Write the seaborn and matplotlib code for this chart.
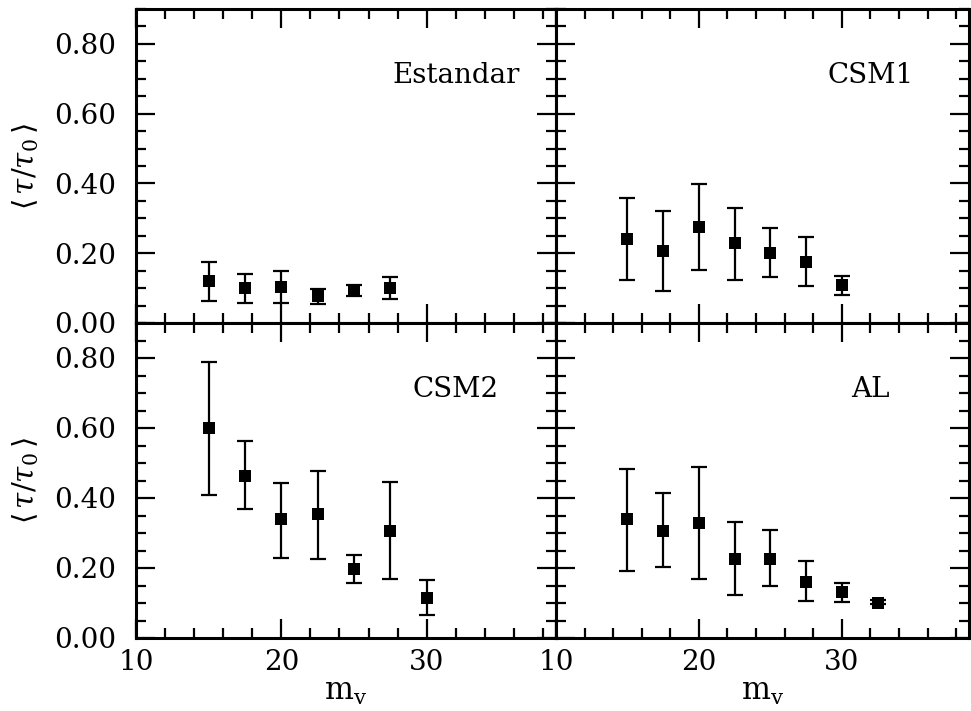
import numpy as np
import pandas as pd
import matplotlib
matplotlib.use("Agg")
import matplotlib.pyplot as plt
from matplotlib.ticker import MultipleLocator, FormatStrFormatter
import seaborn as sns

# ---- data ----
panels = ["Estandar", "CSM1", "CSM2", "AL"]

x_est = [15.0, 17.5, 20.0, 22.5, 25.0, 27.5]
y_est = [0.120, 0.099, 0.102, 0.076, 0.093, 0.099]
hi_est = [0.176, 0.140, 0.150, 0.097, 0.110, 0.133]
lo_est = [0.063, 0.057, 0.057, 0.055, 0.077, 0.069]

x_csm1 = [15.0, 17.5, 20.0, 22.5, 25.0, 27.5, 30.0]
y_csm1 = [0.242, 0.205, 0.274, 0.228, 0.202, 0.176, 0.109]
hi_csm1 = [0.359, 0.322, 0.397, 0.331, 0.271, 0.247, 0.136]
lo_csm1 = [0.124, 0.091, 0.151, 0.124, 0.131, 0.105, 0.079]

x_csm2 = [15.0, 17.5, 20.0, 22.5, 25.0, 27.5, 30.0]
y_csm2 = [0.600, 0.464, 0.339, 0.353, 0.198, 0.307, 0.115]
hi_csm2 = [0.790, 0.562, 0.444, 0.476, 0.238, 0.445, 0.165]
lo_csm2 = [0.409, 0.368, 0.229, 0.226, 0.157, 0.170, 0.066]

x_al = [15.0, 17.5, 20.0, 22.5, 25.0, 27.5, 30.0, 32.5]
y_al = [0.339, 0.307, 0.330, 0.226, 0.226, 0.160, 0.131, 0.100]
hi_al = [0.482, 0.413, 0.488, 0.332, 0.308, 0.219, 0.158, 0.109]
lo_al = [0.191, 0.202, 0.170, 0.122, 0.148, 0.105, 0.103, 0.098]

xs = [x_est, x_csm1, x_csm2, x_al]
ys = [y_est, y_csm1, y_csm2, y_al]
his = [hi_est, hi_csm1, hi_csm2, hi_al]
los = [lo_est, lo_csm1, lo_csm2, lo_al]

x_ticks = [10, 20, 30]
y_ticks = [0.0, 0.2, 0.4, 0.6, 0.8]

# ---- style ----
sns.set_style("ticks")
plt.rcParams["font.family"] = ["DejaVu Serif"]
plt.rcParams["mathtext.fontset"] = "dejavuserif"
plt.rcParams["text.color"] = "black"
plt.rcParams["axes.labelcolor"] = "black"

fig = plt.figure(figsize=(9.71, 7.11), dpi=100)
L, M, R = 136 / 971, 556 / 971, 969 / 971
T, MY, B = 1 - 9 / 711, 1 - 323 / 711, 1 - 638 / 711
rects = [
    [L, MY, M - L, T - MY],
    [M, MY, R - M, T - MY],
    [L, B, M - L, MY - B],
    [M, B, R - M, MY - B],
]

for i, name in enumerate(panels):
    ax = fig.add_axes(rects[i])
    df = pd.DataFrame({"x": xs[i], "y": ys[i]})
    yerr = np.array([np.array(ys[i]) - np.array(los[i]),
                     np.array(his[i]) - np.array(ys[i])])
    ax.errorbar(df["x"], df["y"], yerr=yerr, fmt="none", ecolor="black",
                elinewidth=1.6, capsize=5.5, capthick=1.6, zorder=2)
    sns.scatterplot(data=df, x="x", y="y", marker="s", color="black",
                    s=75, edgecolor="black", linewidth=0, ax=ax, zorder=3)
    ax.set_xlim(10, 38.9)
    ax.set_ylim(0, 0.9)
    ax.set_xticks(x_ticks)
    ax.set_yticks(y_ticks)
    ax.xaxis.set_minor_locator(MultipleLocator(2))
    ax.yaxis.set_minor_locator(MultipleLocator(0.05))
    ax.yaxis.set_major_formatter(FormatStrFormatter("%.2f"))
    ax.tick_params(which="both", direction="in", top=True, right=True,
                   width=1.6, colors="black")
    ax.tick_params(which="major", length=13.5, labelsize=20)
    ax.tick_params(axis="y", which="major", pad=14)
    ax.tick_params(axis="x", which="major", pad=8)
    ax.tick_params(which="minor", length=7)
    for sp in ax.spines.values():
        sp.set_linewidth(2.2)
        sp.set_color("black")
    ax.set_xlabel("")
    ax.set_ylabel("")
    if i < 2:
        ax.tick_params(labelbottom=False)
    else:
        ax.set_xlabel(r"$\mathrm{m_v}$", fontsize=22, labelpad=0)
    if i % 2 == 1:
        ax.tick_params(labelleft=False)
    else:
        ax.set_ylabel(r"$\langle\,\tau/\tau_0\,\rangle$", fontsize=21, labelpad=10)
    ax.text(32, 0.71, name, ha="center", va="center", fontsize=20,
            color="black")

fig.savefig("out.png", dpi=100)
